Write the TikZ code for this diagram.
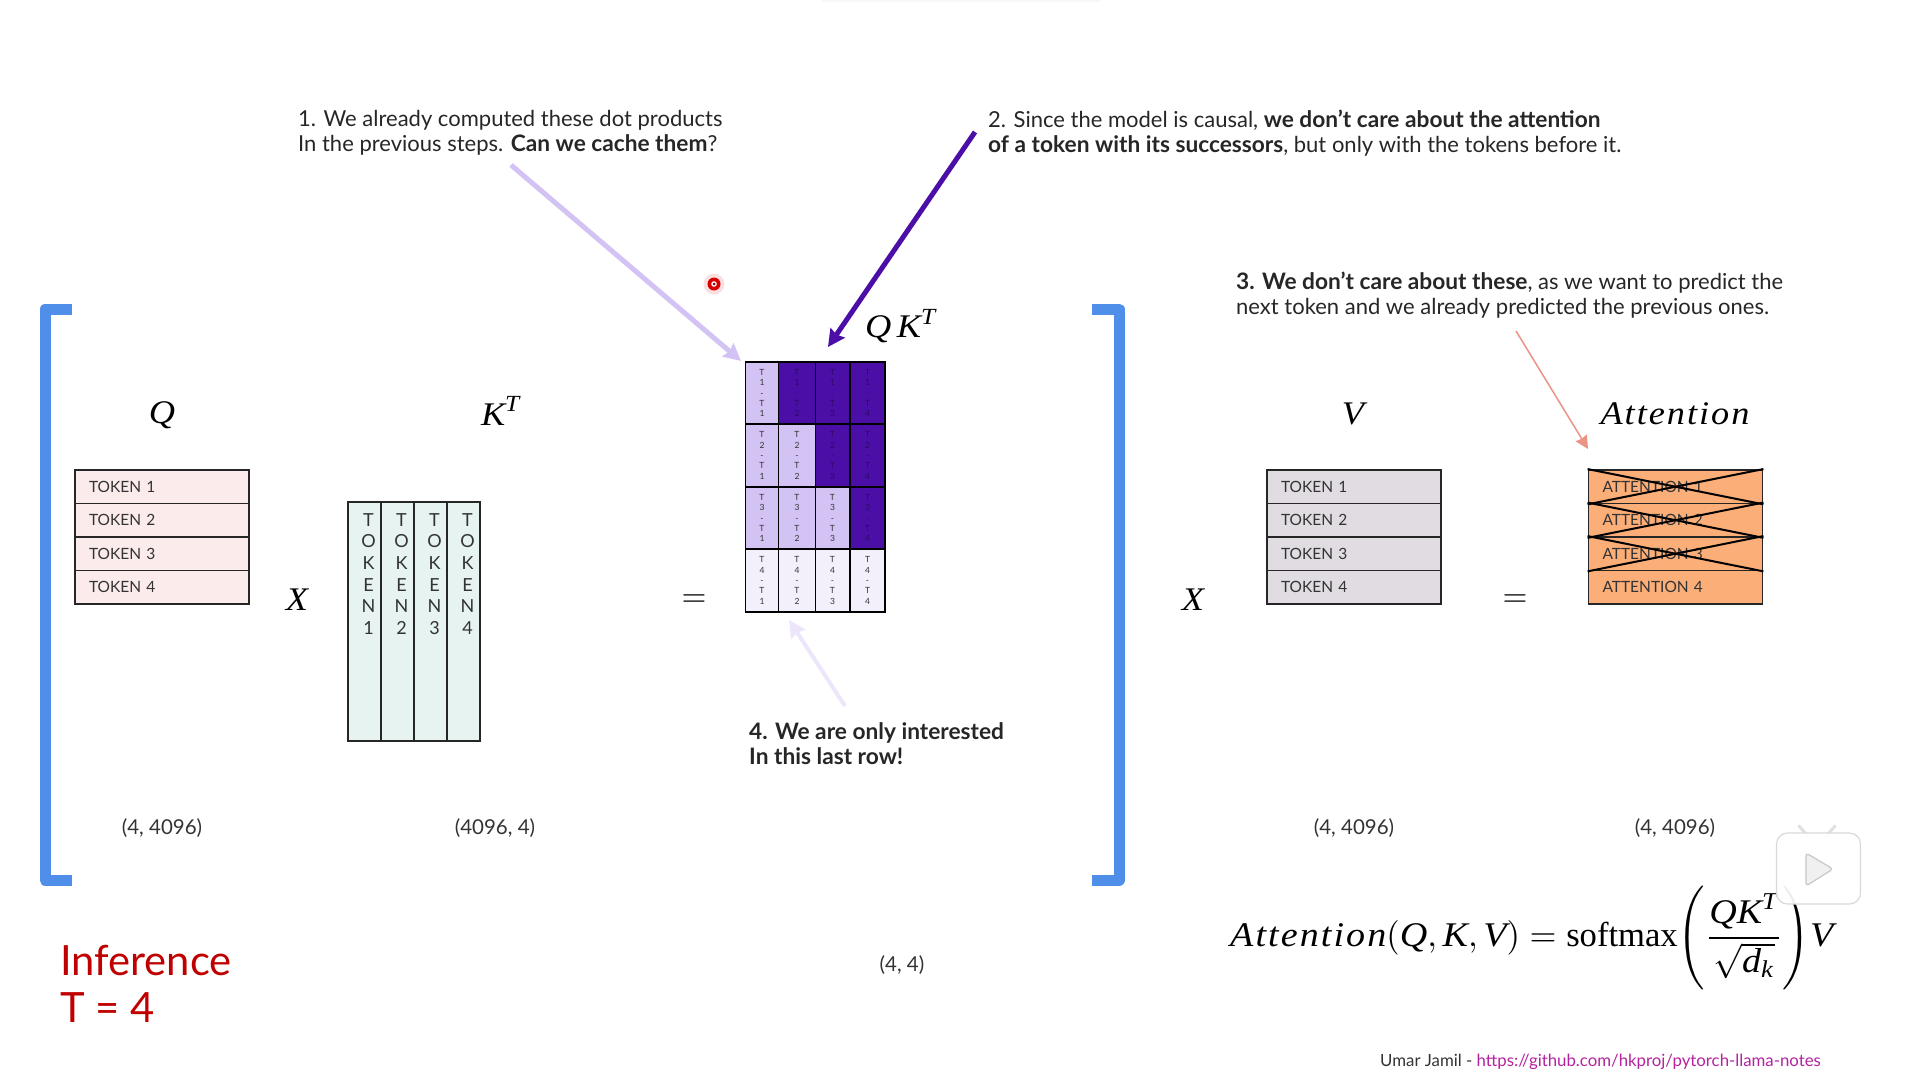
\documentclass[tikz,border=0pt]{standalone}
\usepackage{amsmath}
\usepackage{fontspec}
\usepackage{graphicx}
\setmainfont{Lato}
\newfontfamily\lsit[FakeStretch=1.1,LetterSpace=6]{Liberation Serif}
\newfontfamily\lsrm{Liberation Serif}
\newcommand{\mi}[1]{\text{\lsit\itshape #1}}
\newcommand{\bt}[1]{{\fontsize{22.7}{25}\selectfont\bfseries #1}}
\usetikzlibrary{arrows.meta}
\definecolor{qfill}{HTML}{FBEBEB}
\definecolor{kfill}{HTML}{E6F3F0}
\definecolor{vfill}{HTML}{E0DCE2}
\definecolor{afill}{HTML}{FBAE78}
\definecolor{plight}{HTML}{D3C2F4}
\definecolor{pdark}{HTML}{4B0FA8}
\definecolor{pfaint}{HTML}{F3EFFB}
\definecolor{brk}{HTML}{4F8FEA}
\definecolor{ink}{HTML}{333333}
\definecolor{linkc}{HTML}{B5229E}
\definecolor{redt}{HTML}{C00000}
\definecolor{salmon}{HTML}{E8806F}
\tikzset{
  rowbox/.style={draw=black!85,line width=1.8pt,minimum width=174pt,minimum height=33.5pt,inner sep=0pt,inner xsep=14pt,text width=146pt,align=left,font=\fontsize{15.5}{18}\selectfont,text=ink},
  colbox/.style={draw=black!85,line width=1.8pt,fill=kfill,minimum width=33pt,minimum height=239pt,inner sep=0pt},
  coltext/.style={inner sep=0pt,align=center,font=\fontsize{18}{21.7}\selectfont,text=ink},
  cellbox/.style={draw=black,line width=1.8pt,inner sep=0pt,align=center,font=\fontsize{8.5}{10.4}\selectfont,text=ink},
  note/.style={inner sep=0pt,anchor=north west,align=left,font=\fontsize{22}{25}\selectfont,text=black!85},
  dim/.style={inner sep=0pt,font=\fontsize{20.5}{24}\selectfont,text=ink},
  mathlab/.style={inner sep=0pt},
  bracket/.style={draw=brk,line width=11pt,line join=round},
  arr/.style={-{Stealth[length=#1*3.4pt,width=#1*3.4pt,inset=2pt]},shorten >=0pt}
}
\newcommand{\mq}[2]{\scalebox{#1}{$#2$}}
\begin{document}
\begin{tikzpicture}[x=1pt,y=-1pt]
\useasboundingbox (0,0) rectangle (1920,1069);
% faint top smudge
\fill[black!3] (822,0) rectangle (1100,2);
% brackets
\draw[bracket] (72,309) -- (45,309) -- (45,880) -- (72,880);
\draw[bracket] (1092,309) -- (1119,309) -- (1119,880) -- (1092,880);
% Q
\foreach \i/\y in {1/486.7,2/520.2,3/553.7,4/587.2}
  \node[rowbox,fill=qfill] (q\i) at (162,\y) {TOKEN \i};
\node[mathlab] (qlab) at (162,415) {\mq{3.3}{\mi{Q}}};
\node[mathlab] (xa) at (297,600) {\mq{3.3}{\mi{X}}};
% K
\foreach \i/\x in {1/364.5,2/397.5,3/430.5,4/463.5}{
  \node[colbox] (k\i) at (\x,621.5) {};
  \node[coltext,anchor=north] (kt\i) at (\x+4,513) {T\\O\\K\\E\\N\\\i};
}
\node[mathlab] (klab) at (501,411) {\mq{3.3}{\mi{K}^{\mi{T}}}};
\node[mathlab] (eqa) at (694,601) {\mq{3.2}{=}};
% QK^T matrix
\foreach \r/\yc/\h in {1/393/62,2/455.5/63,3/518/62,4/580.5/63}{
  \foreach \c/\xc/\w in {1/762/33,2/797/37,3/832.5/34,4/867.5/35}{
    \pgfmathtruncatemacro{\up}{\c>\r ? 1 : 0}
    \ifnum\r=4
      \def\cellc{pfaint}
    \else
      \ifnum\up=1 \def\cellc{pdark}\else \def\cellc{plight}\fi
    \fi
    \ifnum\up=1
      \node[cellbox,fill=\cellc,minimum width=\w pt,minimum height=\h pt,text=pdark!60!black] (m\r\c) at (\xc,\yc) {T\\\r\\-\\T\\\c};
    \else
      \node[cellbox,fill=\cellc,minimum width=\w pt,minimum height=\h pt] (m\r\c) at (\xc,\yc) {T\\\r\\-\\T\\\c};
    \fi
  }
}
\node[mathlab] (mlab) at (901,326) {\mq{3.3}{\mi{Q}\,\mi{K}^{\mi{T}}}};
% X V =
\node[mathlab] (xb) at (1193,600) {\mq{3.3}{\mi{X}}};
\foreach \i/\y in {1/486.7,2/520.2,3/553.7,4/587.2}
  \node[rowbox,fill=vfill] (v\i) at (1354,\y) {TOKEN \i};
\node[mathlab] (vlab) at (1353,414) {\mq{3.3}{\mi{V}}};
\node[mathlab] (eqb) at (1515,601) {\mq{3.2}{=}};
% Attention
\foreach \i/\y in {1/486.7,2/520.2,3/553.7,4/587.2}
  \node[rowbox,fill=afill] (a\i) at (1675.5,\y) {ATTENTION \i};
\foreach \i in {1,2,3}{
  \draw[black,line width=2pt] (a\i.north west) -- (a\i.south east);
  \draw[black,line width=2pt] (a\i.north east) -- (a\i.south west);
}
\node[mathlab] (alab) at (1675,414) {\mq{3.3}{\mi{Attention}}};
% notes
\node[note] (n1) at (298,110) {1. We already computed these dot products\\In the previous steps. \bt{Can we cache them}?};
\node[note] (n2) at (988,110) {2. Since the model is causal, \bt{we don’t care about the attention}\\\bt{of a token with its successors}, but only with the tokens before it.};
\node[note] (n3) at (1236,272) {\bt{3. We don’t care about these}, as we want to predict the\\next token and we already predicted the previous ones.};
\node[note] (n4) at (749,722) {\bt{4. We are only interested}\\\bt{In this last row!}};
% arrows
\coordinate (a1s) at (511,165); \coordinate (a1e) at (741,361);
\coordinate (a2s) at (975,132); \coordinate (a2e) at (828,347);
\coordinate (a3s) at (1516,331); \coordinate (a3e) at (1588,449);
\coordinate (a4s) at (845,706); \coordinate (a4e) at (789,620);
\draw[plight,line width=5pt,arr=5] (a1s) -- (a1e);
\draw[pdark,line width=5pt,arr=5] (a2s) -- (a2e);
\draw[salmon!85,line width=1.5pt,-{Stealth[length=13pt,width=13pt,inset=1pt]}] (a3s) -- (a3e);
\draw[pfaint!80!plight,line width=4pt,arr=5] (a4s) -- (a4e);
% dims
\node[dim] (d1) at (162,828) {(4, 4096)};
\node[dim] (d2) at (495,828) {(4096, 4)};
\node[dim] (d3) at (1354,828) {(4, 4096)};
\node[dim] (d4) at (1675,828) {(4, 4096)};
\node[dim] (d5) at (902,965) {(4, 4)};
% Inference
\node[inner sep=0pt,anchor=north west,align=left,text=redt,font=\fontsize{41.7}{47}\selectfont] (inf) at (60,945) {Inference\\T = 4};
% formula
\node[inner sep=0pt,anchor=west] (form) at (1230,938) {\scalebox{3.46}{$\mi{Attention}(\mi{Q},\mi{K},\mi{V})=\text{\lsrm softmax}\Bigg(\dfrac{\mi{Q}\mi{K}^{\mi{T}}}{\sqrt{\mi{d}_{\mi{k}}}}\Bigg)\mi{V}$}};
% credit
\node[inner sep=0pt,anchor=west,font=\fontsize{16.8}{18}\selectfont,text=ink] (cred) at (1380,1064) {Umar Jamil - \textcolor{linkc}{\underline{https://github.com/hkproj/pytorch-llama-notes}}};
% pointer
\fill[red!85!black,opacity=.12] (714,284) circle (10.5);
\fill[red!85!black] (714,284) circle (6.5);
\fill[white] (714,284) circle (2.8);
\fill[red!60!black] (714,284) circle (1.5);
% watermark
\draw[black!12,line width=3pt,line cap=round] (1808,836) -- (1799,826) (1826,836) -- (1835,826);
\node[draw=black!15,fill=white,fill opacity=.93,line width=1.2pt,rounded corners=11pt,minimum width=84pt,minimum height=71pt,inner sep=0pt] (wm) at (1818.5,868.5) {};
\draw[black!22,fill=black!6,line width=1.2pt,rounded corners=3pt] (1806,853) -- (1833,869) -- (1806,886) -- cycle;
\end{tikzpicture}
\end{document}
